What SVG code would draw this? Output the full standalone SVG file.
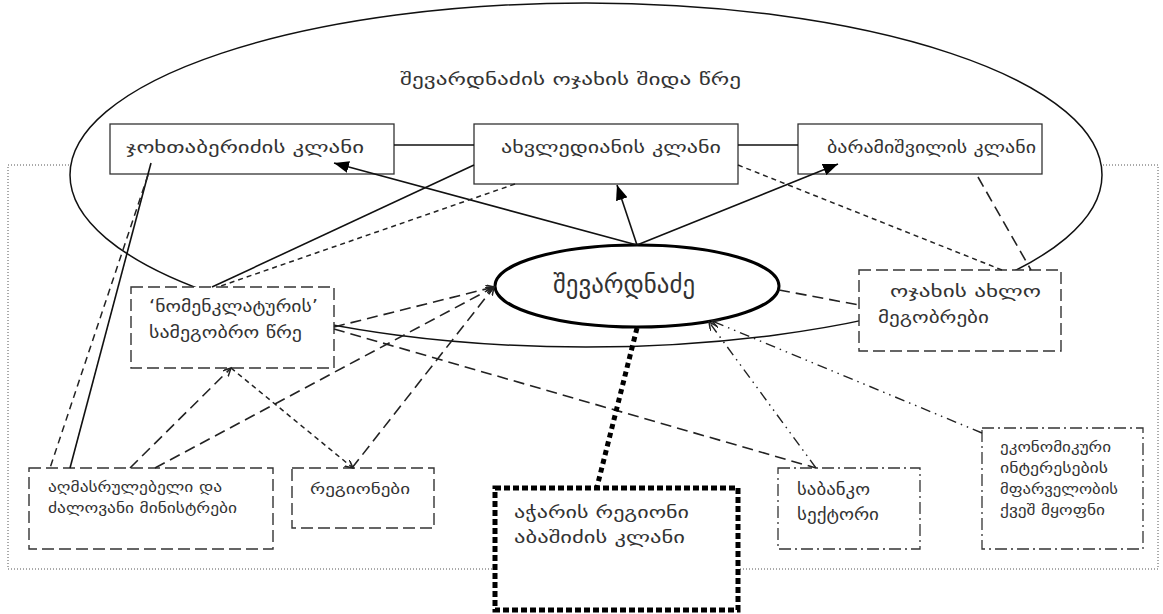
<svg xmlns="http://www.w3.org/2000/svg" width="1163" height="614" viewBox="0 0 1163 614">
<defs>
<style>
text{font-family:"DejaVu Sans","DejaVu Serif",sans-serif;fill:#333;}
.t17{font-size:17px;}
.t15{font-size:15px;}
.box{fill:#fff;stroke:#333;stroke-width:1.3;}
.dbox{fill:#fff;stroke:#333;stroke-width:1.4;stroke-dasharray:12 5;}
.ddbox{fill:#fff;stroke:#333;stroke-width:1.3;stroke-dasharray:12 4 2 4;}
.thick{fill:#fff;stroke:#000;stroke-width:5;stroke-dasharray:6 3;}
.c{fill:none;stroke:#111;stroke-width:1.6;}
.ld{fill:none;stroke:#222;stroke-width:1.6;stroke-dasharray:11 6;}
.md{fill:none;stroke:#222;stroke-width:1.5;stroke-dasharray:7 5;}
.sd{fill:none;stroke:#222;stroke-width:1.5;stroke-dasharray:5 4;}
.dd{fill:none;stroke:#222;stroke-width:1.4;stroke-dasharray:10 5 1.5 5 1.5 5;}
.dot{fill:none;stroke:#000;stroke-width:5;stroke-dasharray:5 4;}
</style>
<marker id="af" markerUnits="userSpaceOnUse" markerWidth="16" markerHeight="12" refX="15" refY="6" orient="auto">
<path d="M0,0 L15,6 L0,12 z" fill="#000"/>
</marker>
<marker id="ao" markerUnits="userSpaceOnUse" markerWidth="10" markerHeight="10" refX="8" refY="4" orient="auto">
<path d="M0,0 L8,4 L0,8" fill="none" stroke="#222" stroke-width="1.5"/>
</marker>
</defs>
<rect x="8" y="165" width="1150" height="404" fill="none" stroke="#555" stroke-width="1" stroke-dasharray="1 2"/>
<g id="inner-circle">
<ellipse cx="586" cy="175" rx="516" ry="172" fill="#fff" stroke="#111" stroke-width="1.5"/>
<text class="t17" x="400" y="85" textLength="341" lengthAdjust="spacingAndGlyphs">შევარდნაძის ოჯახის შიდა წრე</text>
</g>
<g id="jokhtaberidze">
<rect class="box" x="110" y="124" width="284" height="50"/>
<text class="t17" x="126" y="153" textLength="238" lengthAdjust="spacingAndGlyphs">ჯოხთაბერიძის კლანი</text>
</g>
<g id="akhvlediani">
<rect class="box" x="474" y="124" width="264" height="60"/>
<text class="t17" x="501" y="153" textLength="220" lengthAdjust="spacingAndGlyphs">ახვლედიანის კლანი</text>
</g>
<g id="baramishvili">
<rect class="box" x="798" y="124" width="244" height="50"/>
<text class="t17" x="827" y="153" textLength="209" lengthAdjust="spacingAndGlyphs">ბარამიშვილის კლანი</text>
</g>
<g id="shevardnadze">
<ellipse cx="637" cy="286" rx="142" ry="41" fill="#fff" stroke="#000" stroke-width="3"/>
<text x="553" y="293" font-size="26" textLength="142" lengthAdjust="spacingAndGlyphs">შევარდნაძე</text>
</g>
<g id="nomenklatura">
<rect class="dbox" x="131" y="287" width="203" height="81"/>
<text class="t17" x="149" y="312" textLength="169" lengthAdjust="spacingAndGlyphs">‘ნომენკლატურის’</text>
<text class="t17" x="149" y="338" textLength="153" lengthAdjust="spacingAndGlyphs">სამეგობრო წრე</text>
</g>
<g id="megobrebi">
<rect class="dbox" x="859" y="270" width="202" height="81"/>
<text class="t17" x="890" y="297" textLength="151" lengthAdjust="spacingAndGlyphs">ოჯახის ახლო</text>
<text class="t17" x="878" y="323" textLength="111" lengthAdjust="spacingAndGlyphs">მეგობრები</text>
</g>
<g id="ministrebi">
<rect class="dbox" x="29" y="468" width="244" height="81"/>
<text class="t15" x="48" y="492" textLength="174" lengthAdjust="spacingAndGlyphs">აღმასრულებელი და</text>
<text class="t15" x="48" y="513" textLength="189" lengthAdjust="spacingAndGlyphs">ძალოვანი მინისტრები</text>
</g>
<g id="regionebi">
<rect class="dbox" x="292" y="468" width="142" height="60"/>
<text class="t15" x="310" y="494" textLength="100" lengthAdjust="spacingAndGlyphs">რეგიონები</text>
</g>
<g id="achara">
<rect class="thick" x="495" y="488" width="243" height="122"/>
<text class="t17" x="514" y="518" textLength="175" lengthAdjust="spacingAndGlyphs">აჭარის რეგიონი</text>
<text class="t17" x="514" y="543" textLength="171" lengthAdjust="spacingAndGlyphs">აბაშიძის კლანი</text>
</g>
<g id="sabanko">
<rect class="ddbox" x="778" y="468" width="142" height="81"/>
<text class="t17" x="797" y="495" textLength="73" lengthAdjust="spacingAndGlyphs">საბანკო</text>
<text class="t17" x="797" y="520" textLength="82" lengthAdjust="spacingAndGlyphs">სექტორი</text>
</g>
<g id="ekonomikuri">
<rect class="ddbox" x="982" y="428" width="161" height="121"/>
<text class="t15" x="1000" y="452" textLength="111" lengthAdjust="spacingAndGlyphs">ეკონომიკური</text>
<text class="t15" x="1000" y="473" textLength="108" lengthAdjust="spacingAndGlyphs">ინტერესების</text>
<text class="t15" x="1000" y="494" textLength="118" lengthAdjust="spacingAndGlyphs">მფარველობის</text>
<text class="t15" x="1000" y="515" textLength="105" lengthAdjust="spacingAndGlyphs">ქვეშ მყოფნი</text>
</g>
<g id="connectors">
<line class="c" x1="394" y1="145" x2="474" y2="145"/>
<line class="c" x1="738" y1="145" x2="798" y2="145"/>
<line class="c" x1="637" y1="245" x2="334" y2="163" marker-end="url(#af)"/>
<line class="c" x1="637" y1="245" x2="617" y2="185" marker-end="url(#af)"/>
<line class="c" x1="637" y1="245" x2="838" y2="164" marker-end="url(#af)"/>
<line class="c" x1="151" y1="163" x2="70" y2="468"/>
<line class="md" x1="148" y1="175" x2="50" y2="468"/>
<line class="c" x1="474" y1="165" x2="212" y2="287"/>
<line class="sd" x1="515" y1="184" x2="218" y2="287"/>
<line class="sd" x1="738" y1="165" x2="1002" y2="270"/>
<line class="ld" x1="978" y1="177" x2="1031" y2="270"/>
<line class="ld" x1="779" y1="290" x2="859" y2="305"/>
<line class="ld" x1="334" y1="327" x2="494" y2="287" marker-end="url(#ao)"/>
<line class="ld" x1="155" y1="468" x2="494" y2="287" marker-end="url(#ao)"/>
<line class="ld" x1="352" y1="468" x2="494" y2="287" marker-end="url(#ao)"/>
<line class="ld" x1="130" y1="468" x2="231" y2="368" marker-end="url(#ao)"/>
<line class="sd" x1="231" y1="368" x2="353" y2="468" marker-end="url(#ao)"/>
<line class="ld" x1="334" y1="329" x2="816" y2="468"/>
<line class="dd" x1="816" y1="468" x2="709" y2="322" marker-end="url(#ao)"/>
<line class="dd" x1="982" y1="433" x2="712" y2="321" marker-end="url(#ao)"/>
<line class="dot" x1="637" y1="328" x2="597" y2="487"/>
</g>
</svg>
